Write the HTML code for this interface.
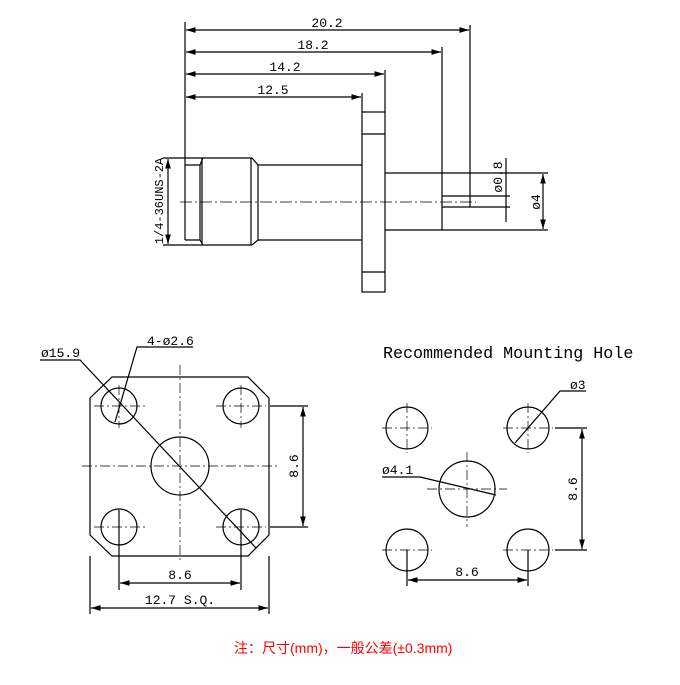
<!DOCTYPE html>
<html><head><meta charset="utf-8"><style>
body{margin:0;background:#fff}
svg text{font-family:"Liberation Mono","Noto Sans CJK SC",monospace;fill:#000}
</style></head><body>
<svg width="680" height="680" viewBox="0 0 680 680" xmlns="http://www.w3.org/2000/svg">
<defs><marker id="a" viewBox="0 0 10 6" refX="10" refY="3" markerWidth="8" markerHeight="5" orient="auto-start-reverse"><path d="M0,0L10,3L0,6z" fill="#000"/></marker></defs>
<g stroke="#000" stroke-width="1.2" fill="none">
<line x1="185" y1="22" x2="185" y2="240"/>
<line x1="470" y1="25" x2="470" y2="207"/>
<line x1="442" y1="47" x2="442" y2="230"/>
<line x1="385" y1="70" x2="385" y2="112"/>
<line x1="362" y1="93" x2="362" y2="112"/>
<line x1="186" y1="30" x2="469" y2="30" marker-start="url(#a)" marker-end="url(#a)"/>
<line x1="186" y1="52" x2="441" y2="52" marker-start="url(#a)" marker-end="url(#a)"/>
<line x1="186" y1="74" x2="384" y2="74" marker-start="url(#a)" marker-end="url(#a)"/>
<line x1="186" y1="97" x2="361" y2="97" marker-start="url(#a)" marker-end="url(#a)"/>
<rect x="362" y="112" width="23" height="180"/>
<line x1="362" y1="134" x2="385" y2="134"/>
<line x1="362" y1="272" x2="385" y2="272"/>
<path d="M163 158H252M163 245H252"/>
<path d="M185 165H200M185 240H200"/>
<path d="M203 158L200 165V240L203 245M202 158V245"/>
<path d="M252 158L258 165V240L252 245M251 158V245"/>
<path d="M258 165H362M258 240H362"/>
<path d="M385 173H548M385 230H548"/>
<path d="M442 196H510M442 207H510"/>
<line x1="168" y1="159" x2="168" y2="244" marker-start="url(#a)" marker-end="url(#a)"/>
<line x1="543" y1="174" x2="543" y2="229" marker-start="url(#a)" marker-end="url(#a)"/>
<path d="M506 158V222"/>
<line x1="180" y1="202" x2="476" y2="202" stroke-dasharray="12 3 2 3" stroke-width="0.8"/>
<path d="M112 377H248L269 398V535L248 556H112L90 535V398Z"/>
<circle cx="119" cy="406" r="18"/><circle cx="241" cy="406" r="18"/>
<circle cx="119" cy="527" r="18"/><circle cx="241" cy="527" r="18"/>
<circle cx="180" cy="466" r="29"/>
<g stroke-width="0.7" stroke-dasharray="10 3 2 3">
<line x1="82" y1="466" x2="278" y2="466"/><line x1="180" y1="365" x2="180" y2="562"/>
<line x1="94" y1="406" x2="145" y2="406"/><line x1="119" y1="385" x2="119" y2="428"/>
<line x1="216" y1="406" x2="266" y2="406"/><line x1="241" y1="385" x2="241" y2="428"/>
<line x1="94" y1="527" x2="145" y2="527"/><line x1="216" y1="527" x2="266" y2="527"/>
</g>
<path d="M40 360H80L256 548"/>
<path d="M193 347H137L115 422"/>
<path d="M270 406H308M270 527H308"/>
<line x1="303" y1="407" x2="303" y2="526" marker-start="url(#a)" marker-end="url(#a)"/>
<path d="M119 510V590M241 510V590"/>
<line x1="120" y1="583" x2="240" y2="583" marker-start="url(#a)" marker-end="url(#a)"/>
<path d="M90 556V614M269 556V614"/>
<line x1="91" y1="608" x2="268" y2="608" marker-start="url(#a)" marker-end="url(#a)"/>
<circle cx="407" cy="428" r="21"/><circle cx="528" cy="428" r="21"/>
<circle cx="407" cy="550" r="21"/><circle cx="528" cy="550" r="21"/>
<circle cx="467" cy="489" r="28"/>
<g stroke-width="0.7" stroke-dasharray="10 3 2 3">
<line x1="382" y1="428" x2="432" y2="428"/><line x1="407" y1="403" x2="407" y2="453"/>
<line x1="503" y1="428" x2="553" y2="428"/><line x1="528" y1="403" x2="528" y2="453"/>
<line x1="382" y1="550" x2="432" y2="550"/><line x1="503" y1="550" x2="553" y2="550"/>
<line x1="427" y1="489" x2="507" y2="489"/><line x1="467" y1="452" x2="467" y2="527"/>
</g>
<path d="M586 391H560L515 443"/>
<path d="M382 477H420L496 495"/>
<path d="M555 428H587M555 550H587"/>
<line x1="582" y1="429" x2="582" y2="549" marker-start="url(#a)" marker-end="url(#a)"/>
<path d="M407 550V586M528 550V586"/>
<line x1="408" y1="580" x2="527" y2="580" marker-start="url(#a)" marker-end="url(#a)"/>
</g>
<g font-size="13">
<text x="327" y="27" text-anchor="middle">20.2</text>
<text x="313" y="49" text-anchor="middle">18.2</text>
<text x="285" y="71" text-anchor="middle">14.2</text>
<text x="273" y="94" text-anchor="middle">12.5</text>
<text transform="translate(163,201) rotate(-90)" text-anchor="middle" font-size="12">1/4-36UNS-2A</text>
<text transform="translate(502,177) rotate(-90)" text-anchor="middle">ø0.8</text>
<text transform="translate(540,202) rotate(-90)" text-anchor="middle">ø4</text>
<text x="41" y="357">ø15.9</text>
<text x="147" y="345">4-ø2.6</text>
<text transform="translate(298,466) rotate(-90)" text-anchor="middle">8.6</text>
<text x="180" y="579" text-anchor="middle">8.6</text>
<text x="180" y="604" text-anchor="middle">12.7 S.Q.</text>
<text x="382" y="474">ø4.1</text>
<text x="570" y="389">ø3</text>
<text transform="translate(577,489) rotate(-90)" text-anchor="middle">8.6</text>
<text x="467" y="576" text-anchor="middle">8.6</text>
</g>
<text x="383" y="358" font-size="16.7">Recommended Mounting Hole</text>
<text x="234" y="653" font-size="14" style="font-family:'Liberation Sans','Noto Sans CJK SC',sans-serif;fill:#f00">注：尺寸(mm)，一般公差(±0.3mm)</text>
</svg>
</body></html>
